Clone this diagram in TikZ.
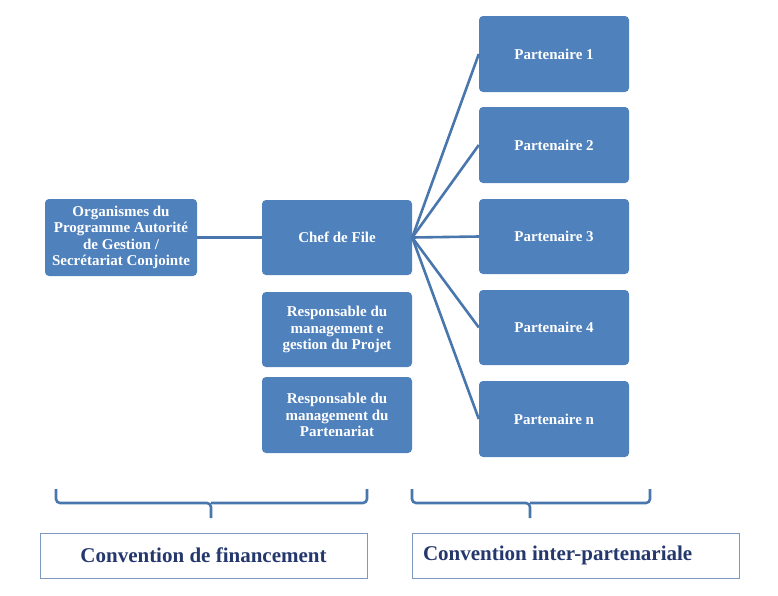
\documentclass[tikz,border=0pt]{standalone}
\usepackage{fontspec}
\setmainfont{Liberation Serif}
\usetikzlibrary{positioning}
\definecolor{boxBlue}{HTML}{4F81BD}
\definecolor{lineBlue}{HTML}{4A76AE}
\definecolor{textNavy}{HTML}{25386E}
\definecolor{frameBlue}{HTML}{7E98BE}
\begin{document}
\begin{tikzpicture}[%%
  x=1pt,y=-1pt,
  boxStyle/.style={draw=none,fill=boxBlue,rounded corners=4pt,text=white,
    font=\bfseries\fontsize{15}{16.5}\selectfont,align=center,
    minimum width=150pt,minimum height=76pt,inner sep=2pt},
  linkStyle/.style={-,draw=lineBlue,line width=2.6pt},
  braceStyle/.style={-,draw=lineBlue,line width=2.6pt,rounded corners=4pt},
  conventionStyle/.style={draw=frameBlue,line width=0.7pt,text=textNavy,
    font=\bfseries\fontsize{21}{23}\selectfont,
    minimum width=327pt,minimum height=45pt}
]
%%
\useasboundingbox (0,0) rectangle (778,595);
\pgfmathsetmacro{\leftX}{337}
\pgfmathsetmacro{\rightX}{554}
%%
%% Programme side.
\node[boxStyle,minimum width=152pt,minimum height=77pt] (organismes) at (121,237.5)
  {Organismes du\\Programme Autorité\\de Gestion /\\Secrétariat Conjointe};
\node[boxStyle,minimum height=75pt] (chef) at (\leftX,237.5) {Chef de File};
\node[boxStyle,minimum height=75pt] (respProjet) at (\leftX,329.5)
  {Responsable du\\management e\\gestion du Projet};
\node[boxStyle] (respPartenariat) at (\leftX,415)
  {Responsable du\\management du\\Partenariat};
%%
%% Partners.
\node[boxStyle] (p1) at (\rightX,54) {Partenaire 1};
\node[boxStyle] (p2) at (\rightX,145) {Partenaire 2};
\node[boxStyle,minimum height=75pt] (p3) at (\rightX,236.5) {Partenaire 3};
\node[boxStyle,minimum height=75pt] (p4) at (\rightX,327.5) {Partenaire 4};
\node[boxStyle] (pn) at (\rightX,419) {Partenaire n};
%%
%% Links.
\draw[linkStyle,line width=3.8pt] (organismes.east) -- (organismes.east -| chef.west);
\foreach \p in {p1,p2,p3,p4,pn}
  \draw[linkStyle] (chef.east) -- (\p.west);
%%
%% Braces.
\coordinate (braceA) at (56,489);
\coordinate (braceB) at (367,489);
\coordinate (braceC) at (412,489);
\coordinate (braceD) at (650,489);
\draw[braceStyle] (braceA) -- ++(0,14) -- (211,503) -- ++(0,15);
\draw[braceStyle] (211,503) -- (367,503) -- (braceB);
\draw[braceStyle] (braceC) -- ++(0,14) -- (530,503) -- ++(0,15);
\draw[braceStyle] (530,503) -- (650,503) -- (braceD);
%%
%% Conventions.
\node[conventionStyle] (financement) at (203.5,555.5) {Convention de financement};
\node[conventionStyle] (interPart) at (575.5,555.5)
  {\makebox[305pt][l]{Convention inter-partenariale}};
\end{tikzpicture}
\end{document}
